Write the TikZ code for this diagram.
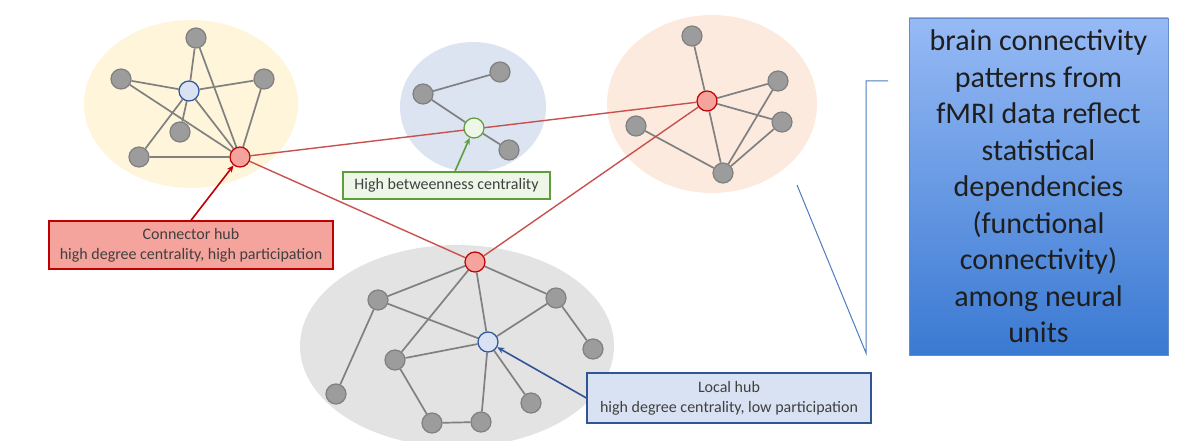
\documentclass[tikz,border=0pt]{standalone}
\usepackage{fontspec}
\setmainfont{Carlito}
\usetikzlibrary{arrows.meta, backgrounds}

\definecolor{unitgray}{HTML}{9C9C9C}
\definecolor{linkgray}{HTML}{808080}
\definecolor{hubred}{HTML}{C00000}
\definecolor{hubfill}{HTML}{F4A39D}
\definecolor{longred}{HTML}{C9504E}
\definecolor{locblue}{HTML}{2F5597}
\definecolor{locfill}{HTML}{D8E2F2}
\definecolor{btwgreen}{HTML}{5E9E3A}
\definecolor{btwfill}{HTML}{EEF6E8}
\definecolor{labeltext}{HTML}{404040}

\begin{document}
\begin{tikzpicture}[
    x = 1pt, y = -1pt,
    unit/.style = {circle, draw = linkgray, fill = unitgray, line width = 1.2pt,
                   minimum size = 20pt, inner sep = 0pt},
    hub/.style  = {unit, draw = hubred, fill = hubfill},
    loc/.style  = {unit, draw = locblue, fill = locfill},
    btw/.style  = {unit, draw = btwgreen, fill = btwfill},
    link/.style = {draw = linkgray, line width = 1.7pt},
    long/.style = {draw = longred, line width = 1.4pt},
    tag/.style  = {line width = 1.3pt, align = center, text = labeltext,
                   font = \fontsize{16}{20}\selectfont, inner sep = 0pt},
    pointer/.style = {-{Stealth[length = 7pt, width = 6pt]}, line width = 1.6pt}
  ]
  \useasboundingbox (0, 0) rectangle (1193, 441);

  % nodes of the first module
  \node[unit] (a1)   at (196,  38) {};
  \node[unit] (a2)   at (121,  79) {};
  \node[unit] (a3)   at (264,  79) {};
  \node[unit] (a4)   at (180, 132) {};
  \node[unit] (a5)   at (139, 157) {};
  \node[loc]  (aloc) at (189,  91) {};
  \node[hub]  (ahub) at (240, 157) {};
  % nodes of the second module
  \node[unit] (b1)   at (500,  72) {};
  \node[unit] (b2)   at (423,  94) {};
  \node[unit] (b3)   at (509, 150) {};
  \node[btw]  (bbtw) at (474, 128) {};
  % nodes of the third module
  \node[unit] (c1)   at (692,  36) {};
  \node[unit] (c2)   at (778,  81) {};
  \node[unit] (c3)   at (782, 122) {};
  \node[unit] (c4)   at (636, 126) {};
  \node[unit] (c5)   at (723, 173) {};
  \node[hub]  (chub) at (707, 101) {};
  % nodes of the fourth module
  \node[unit] (d1)   at (378, 300) {};
  \node[unit] (d2)   at (556, 298) {};
  \node[unit] (d3)   at (395, 360) {};
  \node[unit] (d4)   at (593, 349) {};
  \node[unit] (d5)   at (336, 394) {};
  \node[unit] (d6)   at (531, 403) {};
  \node[unit] (d7)   at (432, 423) {};
  \node[unit] (d8)   at (481, 422) {};
  \node[loc]  (dloc) at (488, 342) {};
  \node[hub]  (dhub) at (475, 262) {};

  \begin{scope}[on background layer]
    % modules
    \fill[fill = {rgb,255:red,255;green,245;blue,218}] (191, 104) ellipse [x radius = 107, y radius = 84];
    \fill[fill = {rgb,255:red,220;green,228;blue,242}] (473, 107) ellipse [x radius = 73, y radius = 65];
    \fill[fill = {rgb,255:red,252;green,234;blue,223}] (712, 104) ellipse [x radius = 105, y radius = 89];
    \fill[fill = {rgb,255:red,227;green,227;blue,227}] (457, 346) ellipse [x radius = 157, y radius = 101];
    % links inside the modules
    \draw[link] (aloc) -- (a1)  (aloc) -- (a2)  (aloc) -- (a3)  (aloc) -- (a4)  (aloc) -- (a5);
    \draw[link] (ahub) -- (a1)  (ahub) -- (a2)  (ahub) -- (a3)  (ahub) -- (a5)  (ahub) -- (aloc);
    \draw[link] (b2) -- (b1)  (b2) -- (bbtw)  (bbtw) -- (b3);
    \draw[link] (chub) -- (c1)  (chub) -- (c2)  (chub) -- (c3)  (chub) -- (c5);
    \draw[link] (c4) -- (c5)  (c5) -- (c2)  (c5) -- (c3);
    \draw[link] (dhub) -- (d1)  (dhub) -- (d3)  (dhub) -- (dloc)  (dhub) -- (d2);
    \draw[link] (d1) -- (dloc)  (d1) -- (d5)  (d3) -- (dloc)  (d3) -- (d7)  (d7) -- (d8);
    \draw[link] (d8) -- (dloc)  (dloc) -- (d2)  (dloc) -- (d6)  (d2) -- (d4);
    % links between the modules
    \draw[long] (ahub) -- (chub);
    \draw[long] (ahub) -- (dhub);
    \draw[long] (dhub) -- (chub);
  \end{scope}

  % labels
  \node[tag, draw = hubred, fill = hubfill, minimum width = 284, minimum height = 48]
    (conn) at (191, 245) {Connector hub\\high degree centrality, high participation};
  \node[tag, draw = btwgreen, fill = btwfill, minimum width = 207, minimum height = 27]
    (betw) at (446.5, 185.5) {High betweenness centrality};
  \node[tag, draw = locblue, fill = locfill, minimum width = 284, minimum height = 50]
    (lhub) at (729, 398) {Local hub\\high degree centrality, low participation};
  \draw[pointer, hubred]   (conn.north) -- (ahub);
  \draw[pointer, btwgreen] ([xshift = 8.5]betw.north) -- (bbtw);
  \draw[pointer, locblue]  (lhub.west) -- (dloc);

  % the note on the right
  \node[draw = {rgb,255:red,100;green,140;blue,200}, line width = 0.8pt,
        top color = {rgb,255:red,150;green,186;blue,245},
        bottom color = {rgb,255:red,58;green,121;blue,210},
        minimum width = 259, minimum height = 337, inner sep = 0pt,
        align = center, text = {rgb,255:red,30;green,30;blue,30},
        font = \fontsize{30}{36.5}\selectfont]
    (note) at (1038.5, 186.5)
    {brain connectivity\\patterns from\\fMRI data reflect\\statistical\\dependencies\\(functional\\connectivity)\\among neural\\units};
  \coordinate (brtop) at (888, 81);
  \coordinate (brbot) at (866, 353);
  \coordinate (zoomtip) at (797, 185);
  \draw[draw = {rgb,255:red,79;green,123;blue,192}, line width = 1pt]
    (brtop) -- (brtop -| brbot) -- (brbot) -- (zoomtip);
\end{tikzpicture}
\end{document}
